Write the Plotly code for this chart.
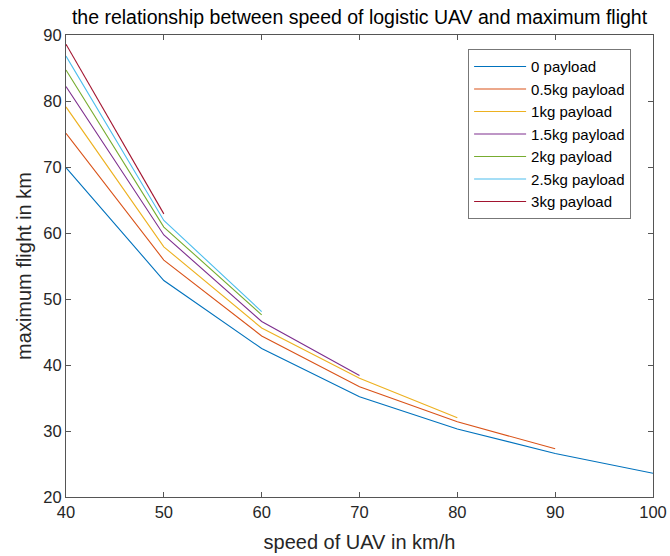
import plotly.graph_objects as go

speed = [40, 50, 60, 70, 80, 90, 100]
labels = ["0 payload", "0.5kg payload", "1kg payload", "1.5kg payload",
          "2kg payload", "2.5kg payload", "3kg payload"]
flight_0 = [69.9, 52.8, 42.5, 35.2, 30.3, 26.6, 23.6]
flight_05 = [75.1, 55.9, 44.4, 36.7, 31.4, 27.3]
flight_1 = [79.1, 57.9, 45.6, 38.0, 32.0]
flight_15 = [82.2, 59.7, 46.6, 38.4]
flight_2 = [84.7, 60.9, 47.6]
flight_25 = [86.8, 61.9, 48.1]
flight_3 = [88.6, 62.9]
series = [flight_0, flight_05, flight_1, flight_15, flight_2, flight_25, flight_3]
colors = ["#0072BD", "#D95319", "#EDB120", "#7E2F8E", "#77AC30", "#4DBEEE", "#A2142F"]

fig = go.Figure()
for name, vals, c in zip(labels, series, colors):
    fig.add_trace(go.Scatter(x=speed[:len(vals)], y=vals, mode="lines", name=name,
                             line=dict(color=c, width=1.1)))

font = "Liberation Sans, Arial, sans-serif"
axis_common = dict(showline=True, linecolor="#555555", linewidth=1, mirror="ticks",
                   ticks="inside", ticklen=5, tickcolor="#555555", showgrid=False,
                   zeroline=False, automargin=False,
                   tickfont=dict(family=font, size=16.5, color="#262626"),
                   title_font=dict(family=font, size=20, color="#262626"))

fig.update_layout(
    width=670, height=556,
    margin=dict(l=66, r=17, t=35, b=59),
    paper_bgcolor="white", plot_bgcolor="white",
    title=dict(text="the relationship between speed of logistic UAV and maximum flight",
               x=0.5, xref="paper", xanchor="center", y=1 - 17 / 556, yanchor="middle",
               font=dict(family=font, size=19.5, color="#000000")),
    xaxis=dict(range=[40, 100], tickvals=[40, 50, 60, 70, 80, 90, 100],
               title=dict(text="speed of UAV in km/h", standoff=15), **axis_common),
    yaxis=dict(range=[20, 90], tickvals=[20, 30, 40, 50, 60, 70, 80, 90],
               title=dict(text="maximum flight in km", standoff=6), **axis_common),
    legend=dict(x=0.685, y=0.969, xanchor="left", yanchor="top",
                bordercolor="#777777", borderwidth=1, bgcolor="white",
                font=dict(family=font, size=15, color="#000000"),
                tracegroupgap=0, itemwidth=52),
    showlegend=True,
)

fig.write_html("out.html")
